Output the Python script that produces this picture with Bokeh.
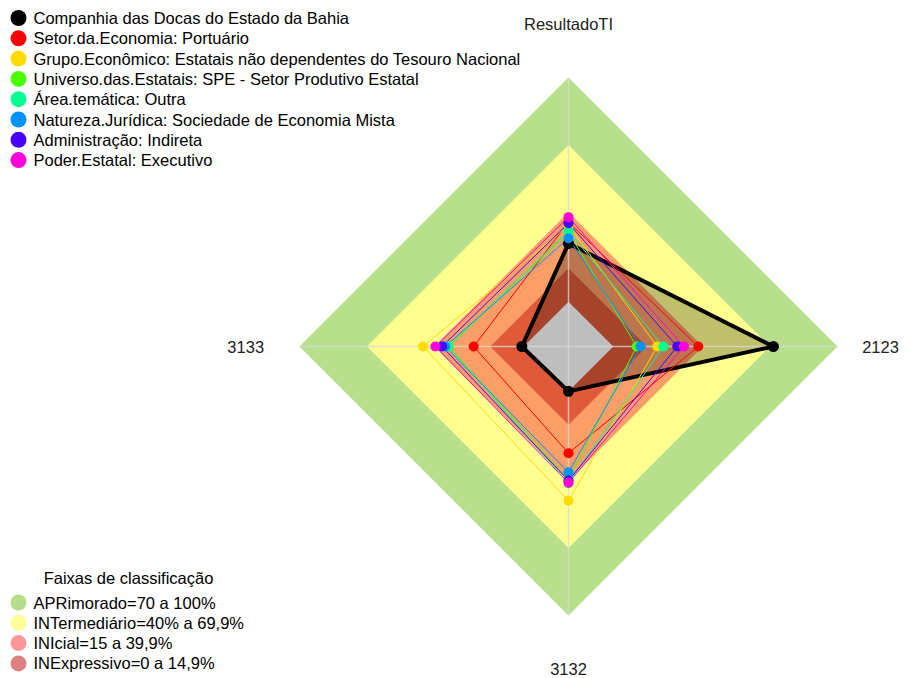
import numpy as np
from bokeh.plotting import figure
from bokeh.models import Range1d
from bokeh.core.properties import value
from bokeh.embed import file_html
from bokeh.resources import INLINE

# ---------------- data ----------------
axis_labels = ["ResultadoTI", "3133", "3132", "2123"]
axis_angles_deg = [90, 180, 270, 0]

series_names = [
    "Companhia das Docas do Estado da Bahia",
    "Setor.da.Economia: Portuário",
    "Grupo.Econômico: Estatais não dependentes do Tesouro Nacional",
    "Universo.das.Estatais: SPE - Setor Produtivo Estatal",
    "Área.temática: Outra",
    "Natureza.Jurídica: Sociedade de Economia Mista",
    "Administração: Indireta",
    "Poder.Estatal: Executivo",
]
series_colors = ["#000000", "#FF0000", "#FFDB00", "#49FF00",
                 "#00FF92", "#0092FF", "#4900FF", "#FF00DB"]

companhia = [26.0, 0.8, 0.0, 71.4]
setor = [35.5, 22.3, 27.6, 37.9]
grupo = [34.0, 44.9, 48.8, 19.6]
universo = [31.0, 33.5, 39.5, 10.4]
area = [31.5, 33.7, 41.0, 22.3]
natureza = [28.3, 35.0, 36.1, 12.1]
administracao = [35.0, 36.4, 39.8, 28.5]
poder = [37.7, 39.4, 40.8, 31.5]
series_values = [companhia, setor, grupo, universo, area, natureza, administracao, poder]

band_title = "Faixas de classificação"
band_labels = ["APRimorado=70 a 100%", "INTermediário=40% a 69,9%",
               "INIcial=15 a 39,9%", "INExpressivo=0 a 14,9%"]
band_limits = [100, 69.9, 39.9, 14.9]
band_fill = ["#b8e08c", "#ffff90", "#fd9d68", "#e05a3a"]
band_legend_colors = ["#b5dd8b", "#ffff99", "#ff9999", "#dd8080"]
center_fill = "#bebebe"

# ---------------- layout ----------------
W, H = 909, 678
CX, CY, R = 568, 346, 269
SEG = 5
FONT = "Liberation Sans"
FS = "16.5px"


def rad(v):
    return R * (1 + SEG * v / 100.0) / (SEG + 1)


def poly(vals):
    xs, ys = [], []
    for v, a in zip(vals, axis_angles_deg):
        t = np.deg2rad(a)
        r = rad(v)
        xs.append(CX + r * np.cos(t))
        ys.append(CY - r * np.sin(t))
    return xs, ys


p = figure(width=W, height=H, output_backend="svg", toolbar_location=None,
           x_range=Range1d(0, W), y_range=Range1d(H, 0),
           min_border=0)
p.axis.visible = False
p.xgrid.visible = False
p.ygrid.visible = False
p.outline_line_color = None
p.background_fill_color = "white"
p.border_fill_color = "white"

# classification bands
for lim, col in zip(band_limits, band_fill):
    xs, ys = poly([lim] * 4)
    p.patch(xs, ys, fill_color=col, line_color=None)

# fill of the company polygon
xs0, ys0 = poly(series_values[0])
p.patch(xs0, ys0, fill_color="black", fill_alpha=0.25, line_color=None)

# center (minimum) area
xs, ys = poly([0] * 4)
p.patch(xs, ys, fill_color=center_fill, line_color=None)

# axis lines
for a in axis_angles_deg:
    t = np.deg2rad(a)
    p.line([CX, CX + R * np.cos(t)], [CY, CY - R * np.sin(t)],
           line_color="#d8d8d8", line_alpha=0.75, line_width=1.5)

# axis labels
for lab, a in zip(axis_labels, axis_angles_deg):
    t = np.deg2rad(a)
    f = 1.2 if a != 0 else 1.16
    p.text([CX + f * R * np.cos(t)], [CY - 1.2 * R * np.sin(t)], text=[lab],
           text_align="center", text_baseline="middle",
           text_font=value(FONT), text_font_size=FS, text_color="#222222")

# series outlines
for i, (vals, col) in enumerate(zip(series_values, series_colors)):
    xs, ys = poly(vals)
    xs = xs + [xs[0]]
    ys = ys + [ys[0]]
    p.line(xs, ys, line_color=col, line_width=4 if i == 0 else 1,
           line_join="miter")

for i, (vals, col) in enumerate(zip(series_values, series_colors)):
    xs, ys = poly(vals)
    p.scatter(xs, ys, size=11 if i == 0 else 10, marker="circle",
              fill_color=col, line_color=None)

# top legend
ly0, ldy = 17.5, 20.3
for i, (name, col) in enumerate(zip(series_names, series_colors)):
    y = ly0 + i * ldy
    p.scatter([18], [y], size=16, marker="circle", fill_color=col, line_color=None)
    p.text([33], [y], text=[name], text_align="left", text_baseline="middle",
           text_font=value(FONT), text_font_size=FS, text_color="black")

# band legend
p.text([128], [577], text=[band_title], text_align="center", text_baseline="middle",
       text_font=value(FONT), text_font_size=FS, text_color="black")
for i, (lab, col) in enumerate(zip(band_labels, band_legend_colors)):
    y = 602 + i * 20.3
    p.scatter([18], [y], size=16, marker="circle", fill_color=col, line_color=None)
    p.text([33], [y], text=[lab], text_align="left", text_baseline="middle",
           text_font=value(FONT), text_font_size=FS, text_color="black")

open("out.html", "w").write(file_html(p, INLINE))
